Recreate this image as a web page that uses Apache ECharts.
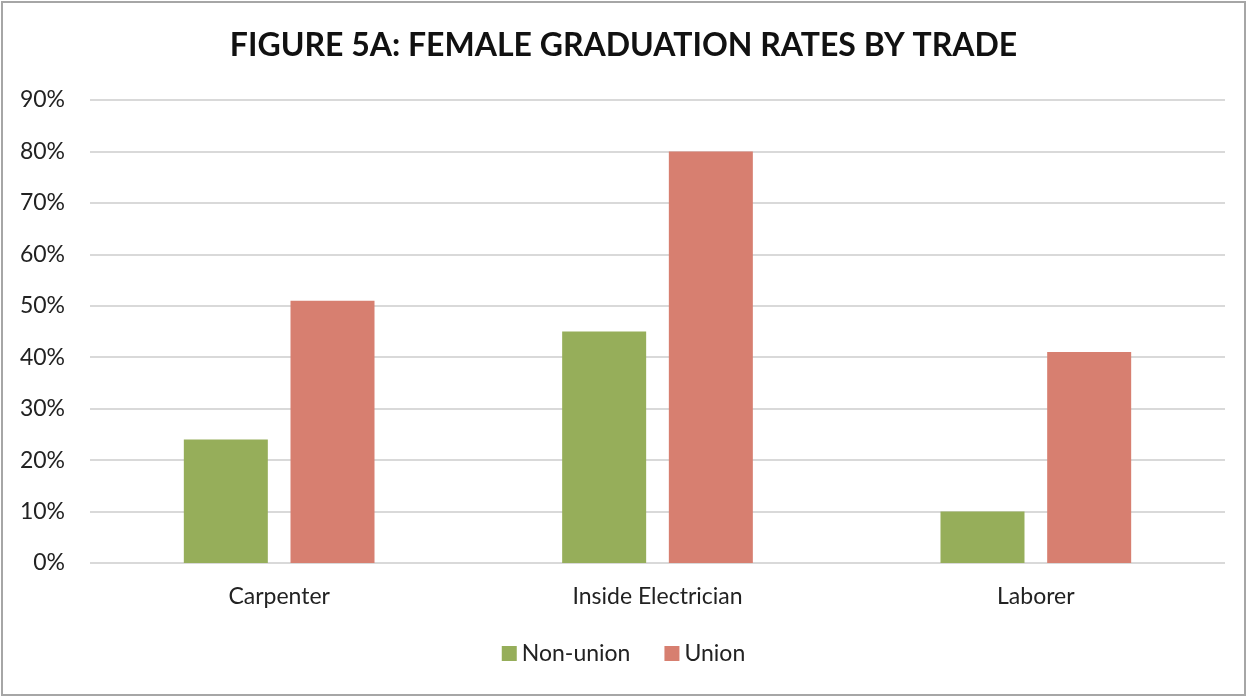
<!DOCTYPE html>
<html>
<head>
<meta charset="utf-8">
<script src="https://cdn.jsdelivr.net/npm/echarts@6/dist/echarts.min.js"></script>
<style>
    html, body { margin: 0; padding: 0; background: #fff; }
    #bar1 { width: 1247px; height: 698px; }
</style>
</head>
<body>
<div id="bar1"></div>
<script>
// chart data
var categories = ['Carpenter', 'Inside Electrician', 'Laborer']
var nonUnion = [24, 45, 10]
var union = [51, 80, 41]
var seriesNames = ['Non-union', 'Union']

var myChart = echarts.init(document.getElementById('bar1'))
var option = {
    color: ['#96ae5a', '#d77f70'],
    textStyle: { fontFamily: 'Lato' },
    title: {
        text: 'FIGURE 5A: FEMALE GRADUATION RATES BY TRADE',
        left: 'center',
        top: 25,
        textStyle: {
            fontFamily: 'Lato',
            fontWeight: 'bold',
            fontSize: 32,
            color: '#111'
        }
    },
    graphic: [{
        type: 'rect',
        shape: { x: 2, y: 2, width: 1243, height: 693 },
        style: { fill: 'none', stroke: '#a6a6a6', lineWidth: 2 },
        silent: true
    }],
    legend: {
        data: seriesNames,
        bottom: 28,
        left: 'center',
        itemWidth: 15,
        itemHeight: 15,
        itemGap: 34,
        icon: 'rect',
        textStyle: { fontSize: 23, color: '#222', fontFamily: 'Lato' }
    },
    grid: {
        left: 90,
        right: 22,
        top: 100,
        bottom: 135
    },
    xAxis: {
        type: 'category',
        data: categories,
        axisTick: { show: false },
        axisLine: { show: false },
        axisLabel: {
            color: '#222',
            fontSize: 23,
            margin: 22,
            fontFamily: 'Lato'
        }
    },
    yAxis: {
        type: 'value',
        min: 0,
        max: 90,
        interval: 10,
        axisLine: { show: false },
        axisTick: { show: false },
        axisLabel: {
            formatter: '{value}%',
            color: '#222',
            fontSize: 23,
            margin: 25,
            fontFamily: 'Lato'
        },
        // 分割线样式
        splitLine: { lineStyle: { color: '#d9d9d9', width: 2 } }
    },
    series: [
        {
            name: seriesNames[0],
            type: 'bar',
            data: nonUnion,
            barWidth: 84,
            barGap: '27%'
        },
        {
            name: seriesNames[1],
            type: 'bar',
            data: union,
            barWidth: 84,
            barGap: '27%'
        }
    ]
}
myChart.setOption(option)
window.onresize = myChart.resize
</script>
</body>
</html>
